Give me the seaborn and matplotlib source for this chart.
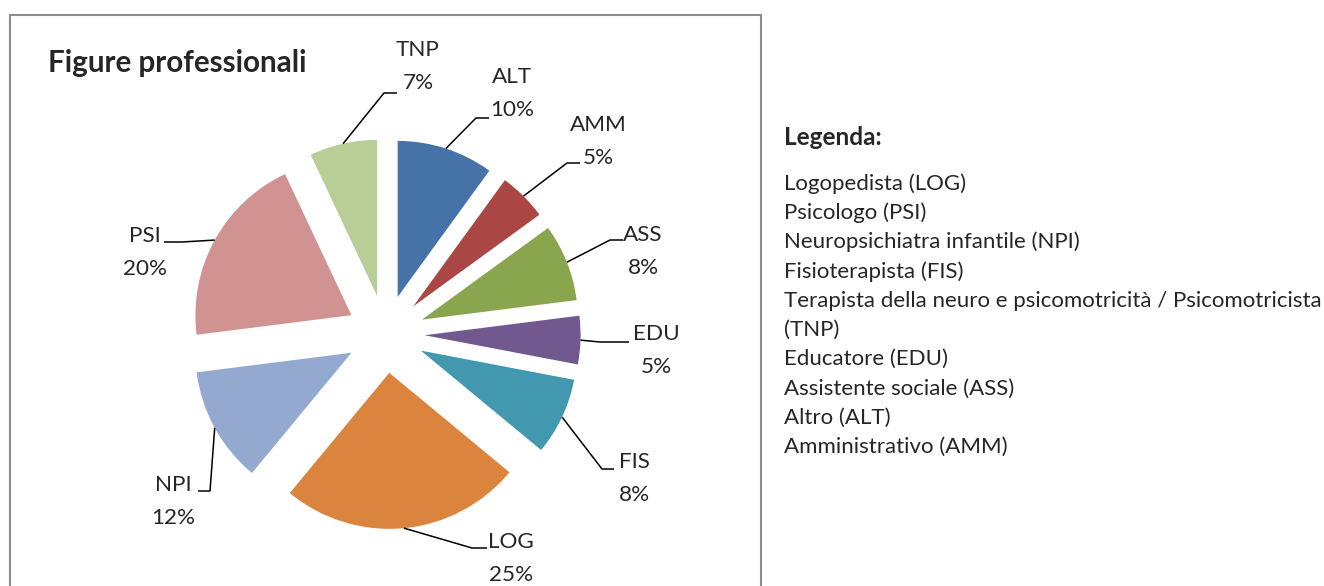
import numpy as np
import matplotlib
matplotlib.use("Agg")
import matplotlib.pyplot as plt
from matplotlib.patches import Rectangle
import seaborn as sns

# ---- data ----
codes = ["ALT", "AMM", "ASS", "EDU", "FIS", "LOG", "NPI", "PSI", "TNP"]
shares = [10, 5, 8, 5, 8, 25, 12, 20, 7]
colors = ["#4572A7", "#AA4643", "#89A54E", "#71588F", "#4198AF",
          "#DB843D", "#93A9CF", "#D19392", "#B9CD96"]
title = "Figure professionali"
legend_title = "Legenda:"
legend_lines = [
    "Logopedista (LOG)",
    "Psicologo (PSI)",
    "Neuropsichiatra infantile (NPI)",
    "Fisioterapista (FIS)",
    "Terapista della neuro e psicomotricità / Psicomotricista",
    "(TNP)",
    "Educatore (EDU)",
    "Assistente sociale (ASS)",
    "Altro (ALT)",
    "Amministrativo (AMM)",
]

# ---- layout (pixels of the 1324x586 canvas) ----
W, H = 1324, 586
CX, CY, RPX = 385.6, 334.0, 156.0
label_pos = {  # name centre x, name centre y
    "TNP": (418, 50), "ALT": (512, 77), "AMM": (598, 125), "ASS": (643, 235),
    "EDU": (656, 334), "FIS": (634, 462), "LOG": (511, 542), "NPI": (173, 485),
    "PSI": (145, 236),
}
leader = {  # knee, end
    "TNP": [(384, 93), (397, 93)],
    "ALT": [(476, 118), (489, 118)],
    "AMM": [(567, 163), (580, 163)],
    "ASS": [(610, 240), (623, 240)],
    "EDU": [(600, 342), (629, 342)],
    "FIS": [(602, 469), (614, 469)],
    "LOG": [(472, 548), (487, 548)],
    "NPI": [(210, 491), (198, 491)],
    "PSI": [(182, 242), (164, 242)],
}


def P(px, py):
    return ((px - CX) / RPX, (CY - py) / RPX)


sns.set_theme(style="white")
plt.rcParams["font.family"] = ["Lato", "DejaVu Sans"]

fig = plt.figure(figsize=(W / 100, H / 100), dpi=100)
fig.patch.set_facecolor("white")
ax = fig.add_axes([0, 0, 1, 1])

wedges, _ = ax.pie(shares, colors=colors, startangle=90, counterclock=False,
                   explode=[0.25] * len(shares), radius=1.0,
                   wedgeprops=dict(linewidth=0))
ax.set_xlim(-CX / RPX, (W - CX) / RPX)
ax.set_ylim((CY - H) / RPX, CY / RPX)
ax.set_aspect("auto")
ax.axis("off")

# frame
fig.patches.append(Rectangle((10 / W, -0.05), (761 - 10) / W, 1.05 - 15 / H,
                             transform=fig.transFigure, fill=False,
                             edgecolor="#8c8c8c", linewidth=1.5))

fs_lab = 16.2
for w, code, val in zip(wedges, codes, shares):
    th = np.deg2rad((w.theta1 + w.theta2) / 2)
    ax0 = w.center[0] + w.r * np.cos(th)
    ay0 = w.center[1] + w.r * np.sin(th)
    (kx, ky), (ex, ey) = [P(*p) for p in leader[code]]
    ax.plot([ax0, kx, ex], [ay0, ky, ey], color="black", lw=1.1,
            solid_capstyle="butt")
    lx, ly = label_pos[code]
    ax.text(*P(lx, ly), code, ha="center", va="center", fontsize=fs_lab)
    ax.text(*P(lx, ly + 33), f"{val}%", ha="center", va="center",
            fontsize=fs_lab)

fig.text(48 / W, 1 - 63 / H, title, ha="left", va="center",
         fontsize=21.3, fontweight="bold")

fig.text(784 / W, 1 - 145 / H, legend_title, ha="left", va="baseline",
         fontsize=17.5, fontweight="bold")
for i, line in enumerate(legend_lines):
    fig.text(784 / W, 1 - (190 + 29.2 * i) / H, line, ha="left",
             va="baseline", fontsize=16.0)

fig.savefig("out.png", dpi=100, facecolor="white")
